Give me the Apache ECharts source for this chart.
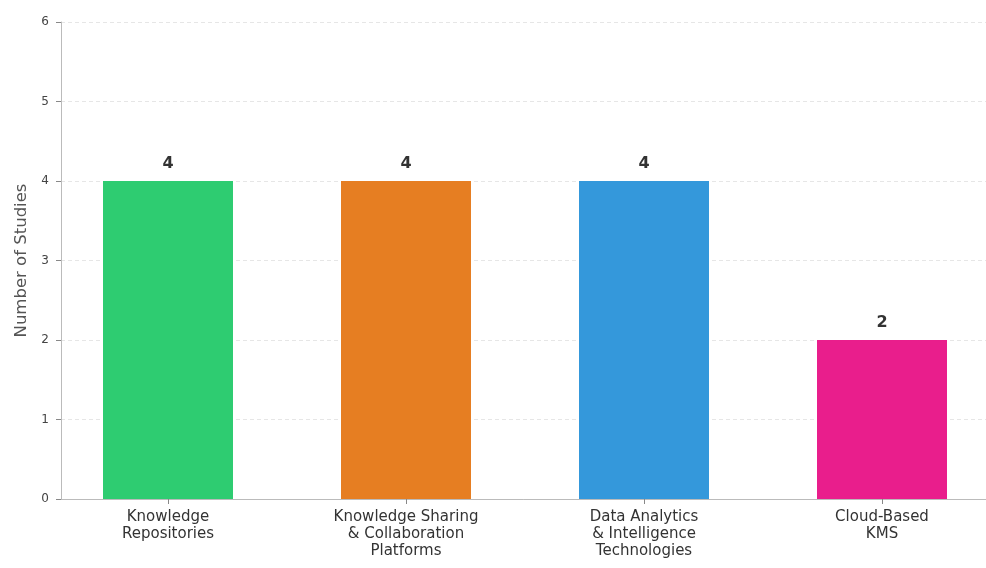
<!DOCTYPE html>
<html>
<head>
<meta charset="utf-8">
<script src="https://cdn.jsdelivr.net/npm/echarts@6/dist/echarts.min.js"></script>
<style>
  html, body { margin: 0; padding: 0; background: #ffffff; overflow: hidden; }
  #chart { width: 986px; height: 568px; }
</style>
</head>
<body>
<div id="chart"></div>
<script>
// KMS technology categories and how many studies cover each
const categories = [
  'Knowledge\nRepositories',
  'Knowledge Sharing\n& Collaboration\nPlatforms',
  'Data Analytics\n& Intelligence\nTechnologies',
  'Cloud-Based\nKMS'
];
const studyCounts = [4, 4, 4, 2];
const barColors = ['#2ecc71', '#e67e22', '#3498db', '#e91e8c'];
const yTicks = [0, 1, 2, 3, 4, 5, 6];

const FONT = '"DejaVu Sans"';
const chart = echarts.init(document.getElementById('chart'));

chart.setOption({
  animation: false,
  backgroundColor: '#ffffff',
  grid: [
    // bars and category labels (plot area runs past the right edge)
    { left: 49, width: 952, top: 22, bottom: 69, containLabel: false, outerBoundsMode: 'none' },
    // frame: left/bottom spines, y ticks and gridlines
    { left: 61, width: 929, top: 22, bottom: 69, containLabel: false, outerBoundsMode: 'none' }
  ],
  xAxis: [
    {
      type: 'category',
      gridIndex: 0,
      data: categories,
      axisLine: { show: false },
      axisTick: { show: true, alignWithLabel: true, length: 5, lineStyle: { color: '#888' } },
      axisLabel: {
        fontFamily: FONT, fontSize: 15, color: '#333', lineHeight: 17, margin: 10
      },
      z: 5
    },
    {
      type: 'value',
      gridIndex: 1,
      min: 0, max: 1,
      axisLine: { show: true, lineStyle: { color: '#bbbbbb', width: 1 } },
      axisTick: { show: false },
      axisLabel: { show: false },
      splitLine: { show: false }
    }
  ],
  yAxis: [
    {
      type: 'value',
      gridIndex: 0,
      min: yTicks[0], max: yTicks[yTicks.length - 1], interval: 1,
      show: false
    },
    {
      type: 'value',
      gridIndex: 1,
      min: yTicks[0], max: yTicks[yTicks.length - 1], interval: 1,
      name: 'Number of Studies',
      nameLocation: 'middle',
      nameGap: 23,
      nameTextStyle: { fontFamily: FONT, fontSize: 16.5, color: '#555' },
      axisLine: { show: true, lineStyle: { color: '#bbbbbb', width: 1 } },
      axisTick: { show: true, length: 5, lineStyle: { color: '#888' } },
      axisLabel: { fontFamily: FONT, fontSize: 12, color: '#444', margin: 12 },
      splitLine: { show: true, lineStyle: { color: '#e6e6e6', type: [4, 3], width: 1 } }
    }
  ],
  series: [
    {
      type: 'bar',
      xAxisIndex: 0,
      yAxisIndex: 0,
      barWidth: 130,
      data: studyCounts.map((v, i) => ({ value: v, itemStyle: { color: barColors[i] } })),
      label: {
        show: true,
        position: 'top',
        distance: 9,
        fontFamily: FONT,
        fontSize: 16,
        fontWeight: 'bold',
        color: '#333'
      },
      z: 2
    }
  ]
});
</script>
</body>
</html>
